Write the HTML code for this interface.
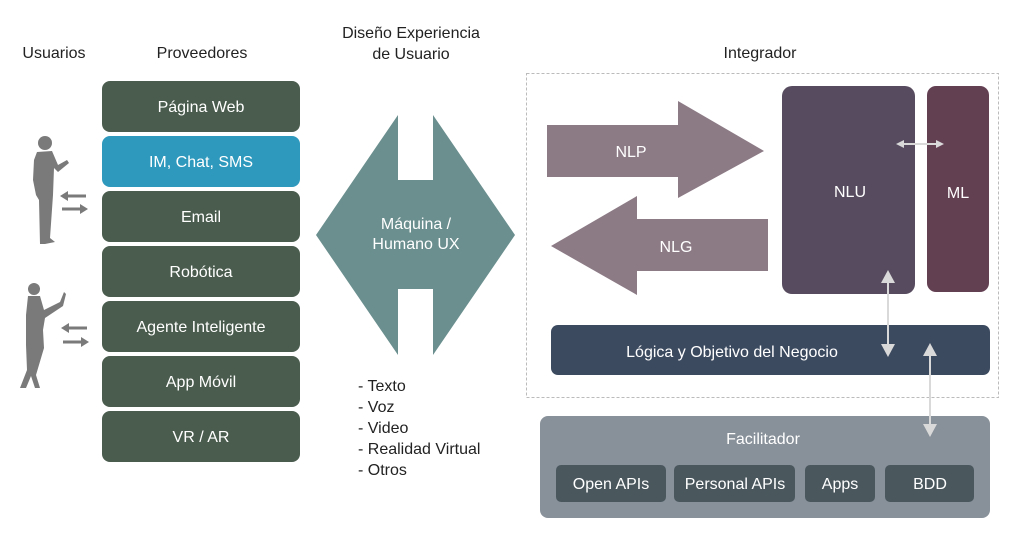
<!DOCTYPE html>
<html><head><meta charset="utf-8"><style>
body{margin:0;width:1024px;height:535px;background:#fff;overflow:hidden;font-family:"Liberation Sans",sans-serif;}
svg text{font-family:"Liberation Sans",sans-serif;}
</style></head><body>
<svg width="1024" height="535" viewBox="0 0 1024 535" xmlns="http://www.w3.org/2000/svg">
<defs>
<marker id="ah" markerWidth="8" markerHeight="8" refX="6" refY="4" orient="auto-start-reverse" markerUnits="userSpaceOnUse"><path d="M0,0 L8,4 L0,8 z" fill="#d9d9d9"/></marker>
</defs>
<g font-size="16" fill="#222" text-anchor="middle">
<text x="54" y="58">Usuarios</text>
<text x="202" y="58">Proveedores</text>
<text x="411" y="38">Diseño Experiencia</text>
<text x="411" y="59">de Usuario</text>
<text x="760" y="58">Integrador</text>
</g>
<g font-size="16" fill="#fff" text-anchor="middle">
<rect x="102" y="81" width="198" height="51" rx="8" fill="#4a5c4d"/><text x="201" y="112">Página Web</text>
<rect x="102" y="136" width="198" height="51" rx="8" fill="#2e99bd"/><text x="201" y="167">IM, Chat, SMS</text>
<rect x="102" y="191" width="198" height="51" rx="8" fill="#4a5c4d"/><text x="201" y="222">Email</text>
<rect x="102" y="246" width="198" height="51" rx="8" fill="#4a5c4d"/><text x="201" y="277">Robótica</text>
<rect x="102" y="301" width="198" height="51" rx="8" fill="#4a5c4d"/><text x="201" y="332">Agente Inteligente</text>
<rect x="102" y="356" width="198" height="51" rx="8" fill="#4a5c4d"/><text x="201" y="387">App Móvil</text>
<rect x="102" y="411" width="198" height="51" rx="8" fill="#4a5c4d"/><text x="201" y="442">VR / AR</text>
</g>
<!-- persons -->
<g fill="#7a7a7a">
<circle cx="45" cy="143" r="7"/>
<path d="M37,152 L52,151 L58,165 L67,160 L69,163 L58,172 L54,168 L53,195 L50,238 L55,242 L45,244 L40,244 L39,200 L36,195 L33,180 L34,160 z"/>
<circle cx="34" cy="289" r="6"/>
<path d="M28,296 L40,296 L44,310 L60,302 L64,292 L66,294 L63,306 L45,318 L43,330 L44,348 L36,375 L40,388 L35,388 L31,376 L26,388 L20,388 L27,370 L26,345 L26,315 z"/>
</g>
<g stroke="#7a7a7a" stroke-width="3" fill="#7a7a7a">
<line x1="86" y1="196" x2="66" y2="196"/><path d="M60,196 L68,191 L68,201z" stroke="none"/>
<line x1="62" y1="209" x2="80" y2="209"/><path d="M88,209 L80,204 L80,214z" stroke="none"/>
<line x1="87" y1="328" x2="67" y2="328"/><path d="M61,328 L69,323 L69,333z" stroke="none"/>
<line x1="63" y1="342" x2="81" y2="342"/><path d="M89,342 L81,337 L81,347z" stroke="none"/>
</g>
<!-- diamond -->
<polygon points="398,115 398,180 433,180 433,115 515,235 433,355 433,289 398,289 398,355 316,235" fill="#6a8f8e"/>
<g font-size="16" fill="#fff" text-anchor="middle"><text x="416" y="229">Máquina /</text><text x="416" y="249">Humano UX</text></g>
<g font-size="16" fill="#222"><text x="358" y="391">- Texto</text><text x="358" y="412">- Voz</text><text x="358" y="433">- Video</text><text x="358" y="454">- Realidad Virtual</text><text x="358" y="475">- Otros</text></g>
<!-- integrator -->
<rect x="526.5" y="73.5" width="472" height="324" fill="none" stroke="#bbb" stroke-dasharray="3,2"/>
<polygon points="547,125 678,125 678,101 764,151 678,198 678,177 547,177" fill="#8c7a85"/>
<polygon points="768,219 637,219 637,196 551,246 637,295 637,271 768,271" fill="#8c7a85"/>
<rect x="782" y="86" width="133" height="208" rx="10" fill="#574c5f"/>
<rect x="927" y="86" width="62" height="206" rx="9" fill="#633f52"/>
<rect x="551" y="325" width="439" height="50" rx="7" fill="#3c4a5f"/>
<g font-size="16" fill="#fff" text-anchor="middle">
<text x="631" y="157">NLP</text><text x="676" y="252">NLG</text>
<text x="850" y="197">NLU</text><text x="958" y="198">ML</text>
<text x="732" y="357">Lógica y Objetivo del Negocio</text>
</g>
<g stroke="#d9d9d9" stroke-width="2" fill="none">
<line x1="898" y1="144" x2="942" y2="144" marker-start="url(#ah)" marker-end="url(#ah)"/>
<line x1="888" y1="280" x2="888" y2="346"/>
<line x1="930" y1="354" x2="930" y2="424"/>
</g>
<g fill="#d9d9d9">
<path d="M881,283 L895,283 L888,270z"/>
<path d="M881,344 L895,344 L888,357z"/>
<path d="M923,356 L937,356 L930,343z"/>
<path d="M923,424 L937,424 L930,437z"/>
</g>
<rect x="540" y="416" width="450" height="102" rx="8" fill="#889099"/>
<g fill="#4a585e">
<rect x="556" y="465" width="110" height="37" rx="5"/>
<rect x="674" y="465" width="121" height="37" rx="5"/>
<rect x="805" y="465" width="70" height="37" rx="5"/>
<rect x="885" y="465" width="89" height="37" rx="5"/>
</g>
<g stroke="#d9d9d9" stroke-width="2"><line x1="930" y1="416" x2="930" y2="426"/></g>
<path d="M923,424 L937,424 L930,437z" fill="#d9d9d9"/>
<g font-size="16" fill="#fff" text-anchor="middle">
<text x="763" y="444">Facilitador</text>
<text x="611" y="489">Open APIs</text>
<text x="735" y="489">Personal APIs</text>
<text x="840" y="489">Apps</text>
<text x="930" y="489">BDD</text>
</g>
</svg>
</body></html>
